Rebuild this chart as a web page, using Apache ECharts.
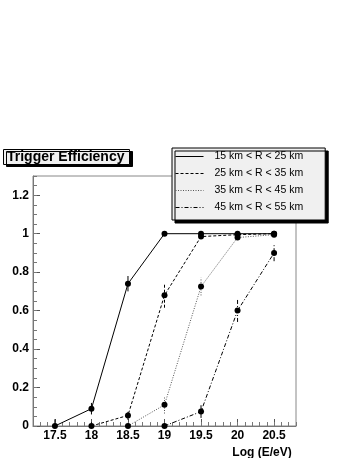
<!DOCTYPE html>
<html>
<head>
<meta charset="utf-8">
<script src="https://cdn.jsdelivr.net/npm/echarts@6/dist/echarts.min.js"></script>
<style>
html, body { margin: 0; padding: 0; background: #fff; }
#main { width: 354px; height: 458px; }
</style>
</head>
<body>
<div id="main"></div>
<script>
// 数据
var energy = [17.5, 18, 18.5, 19, 19.5, 20, 20.5];
var names = ['15 km < R < 25 km', '25 km < R < 35 km', '35 km < R < 45 km', '45 km < R < 55 km'];
var eff15 = [0, 0.09, 0.74, 1, 1, 1, 1];
var eff25 = [null, 0, 0.055, 0.68, 0.985, 0.995, 1];
var eff35 = [null, null, 0, 0.11, 0.725, 0.98, 0.995];
var eff45 = [null, null, null, 0, 0.075, 0.6, 0.9];
var err15 = [0.035, 0.03, 0.04, 0, 0, 0, 0];
var err25 = [null, 0.02, 0.023, 0.065, 0.01, 0.005, 0];
var err35 = [null, null, 0.02, 0.045, 0.046, 0.01, 0.005];
var err45 = [null, null, null, 0.02, 0.033, 0.059, 0.043];
var xLabels = [17.5, 18, 18.5, 19, 19.5, 20, 20.5];
var yLabels = [0, 0.2, 0.4, 0.6, 0.8, 1, 1.2];

var font = "'Liberation Sans', Helvetica, Arial, sans-serif";

// 小刻度
var xMinor = [];
for (var i = 173; i <= 208; i++) xMinor.push(i / 10);
var yMinor = [];
for (var j = 0; j <= 26; j++) yMinor.push(j * 0.05);

function pairs(vals) {
    var out = [];
    energy.forEach(function (x, i) {
        if (vals[i] != null) out.push([x, vals[i]]);
    });
    return out;
}
function errPairs(vals, errs) {
    var out = [];
    energy.forEach(function (x, i) {
        if (vals[i] != null) out.push([x, vals[i], errs[i]]);
    });
    return out;
}

var styles = [
    {color: '#000', type: 'solid', width: 1},
    {color: '#000', type: [3, 2], width: 1},
    {color: '#555', type: [1, 1.5], width: 1},
    {color: '#000', type: [4, 2, 1, 2], width: 1}
];
var effs = [eff15, eff25, eff35, eff45];
var errs = [err15, err25, err35, err45];

var series = [];
effs.forEach(function (v, k) {
    series.push({
        name: names[k],
        type: 'line',
        data: pairs(v),
        symbol: 'circle',
        symbolSize: 6,
        itemStyle: {color: '#000'},
        lineStyle: styles[k],
        z: 3
    });
});
effs.forEach(function (v, k) {
    series.push({
        name: 'err' + k,
        type: 'custom',
        data: errPairs(v, errs[k]),
        clip: true,
        z: 2,
        renderItem: function (params, api) {
            var x = api.value(0), y = api.value(1), e = api.value(2);
            var p1 = api.coord([x, y - e]);
            var p2 = api.coord([x, y + e]);
            return {
                type: 'line',
                shape: {x1: p1[0], y1: p1[1], x2: p2[0], y2: p2[1]},
                style: {stroke: styles[k].color, lineWidth: 1,
                    lineDash: styles[k].type === 'solid' ? null : styles[k].type}
            };
        }
    });
});

var chart = echarts.init(document.getElementById('main'));
chart.setOption({
    backgroundColor: '#fff',
    animation: false,
    title: {
        text: 'Trigger Efficiency',
        left: 3,
        top: 149,
        padding: [1, 5, 1, 4],
        backgroundColor: '#f0f0f0',
        borderColor: '#000',
        borderWidth: 1,
        shadowColor: '#000',
        shadowBlur: 0,
        shadowOffsetX: 3,
        shadowOffsetY: 2,
        textStyle: {fontFamily: font, fontSize: 14, fontWeight: 'bold', color: '#000'}
    },
    legend: {
        data: names,
        orient: 'vertical',
        left: 172,
        top: 148,
        padding: [3, 22, 7, 3],
        itemGap: 6,
        itemWidth: 28,
        itemHeight: 10,
        backgroundColor: '#f0f0f0',
        borderColor: '#000',
        borderWidth: 1,
        shadowColor: '#000',
        shadowBlur: 0,
        shadowOffsetX: 3,
        shadowOffsetY: 3,
        itemStyle: {opacity: 0},
        lineStyle: {width: 1},
        textStyle: {fontFamily: font, fontSize: 10.5, color: '#000', padding: [0, 0, 0, 6]}
    },
    grid: {
        left: 33, right: 58, top: 176, bottom: 32,
        containLabel: false,
        outerBoundsMode: 'none',
        show: true, borderColor: '#888', borderWidth: 1
    },
    xAxis: [{
        type: 'value',
        min: 17.2,
        max: 20.8,
        name: 'Log (E/eV)',
        nameLocation: 'middle',
        nameGap: 13,
        nameTextStyle: {fontFamily: font, fontSize: 12, fontWeight: 'bold', color: '#000',
            verticalAlign: 'top', padding: [0, 0, 0, 195]},
        axisLine: {onZero: false, lineStyle: {color: '#777'}},
        axisTick: {inside: true, length: 7, customValues: xLabels, lineStyle: {color: '#555'}},
        axisLabel: {customValues: xLabels, margin: 4, fontFamily: font, fontSize: 12,
            fontWeight: 'bold', color: '#000'},
        splitLine: {show: false}
    }, {
        type: 'value',
        min: 17.2,
        max: 20.8,
        position: 'bottom',
        axisLine: {show: false},
        axisTick: {inside: true, length: 4, customValues: xMinor, lineStyle: {color: '#777'}},
        axisLabel: {show: false},
        splitLine: {show: false}
    }],
    yAxis: [{
        type: 'value',
        min: 0,
        max: 1.3,
        axisLine: {show: true, onZero: false, lineStyle: {color: '#777'}},
        axisTick: {show: true, inside: true, length: 7, customValues: yLabels, lineStyle: {color: '#555'}},
        axisLabel: {customValues: yLabels, margin: 4, fontFamily: font, fontSize: 12,
            fontWeight: 'bold', color: '#000'},
        splitLine: {show: false}
    }, {
        type: 'value',
        min: 0,
        max: 1.3,
        position: 'left',
        axisLine: {show: false},
        axisTick: {show: true, inside: true, length: 4, customValues: yMinor, lineStyle: {color: '#777'}},
        axisLabel: {show: false},
        splitLine: {show: false}
    }],
    series: series
});
</script>
</body>
</html>
